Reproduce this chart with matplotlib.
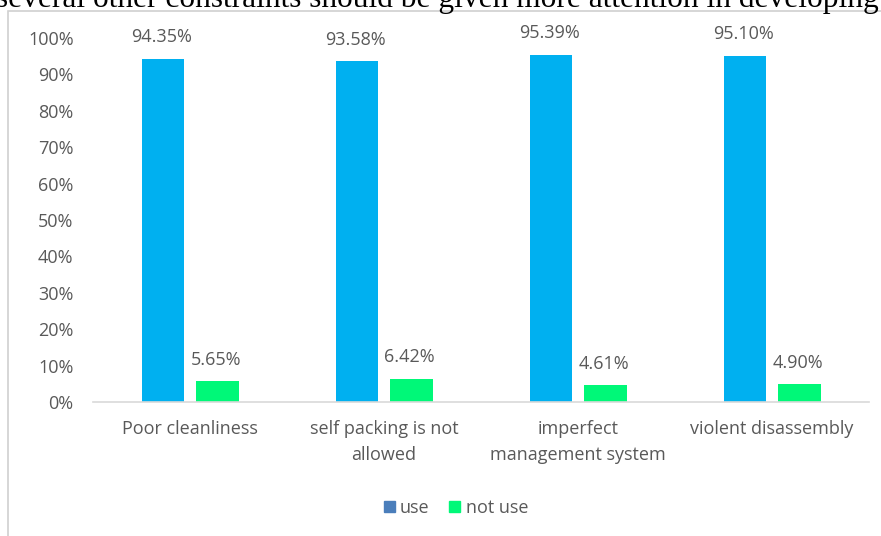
import numpy as np
import matplotlib
matplotlib.use("Agg")
import matplotlib.pyplot as plt
from matplotlib.patches import Rectangle

categories = ["Poor cleanliness", "self packing is not\nallowed",
              "imperfect\nmanagement system", "violent disassembly"]
use_vals = [94.35, 93.58, 95.39, 95.10]
not_use_vals = [5.65, 6.42, 4.61, 4.90]
y_ticks = [0, 10, 20, 30, 40, 50, 60, 70, 80, 90, 100]

blue = "#00B0F0"
green = "#00F878"
legend_blue = "#4A7EBB"
txt = "#595959"
fs = 13

plt.rcParams["font.family"] = ["Open Sans", "DejaVu Sans"]

fig = plt.figure(figsize=(8.81, 5.36), dpi=100)
fig.patch.set_facecolor("white")

# sentence above the chart, cut off at the top edge
fig.text(-4 / 881, 1 - 7 / 536,
         "several other constraints should be given more attention in developing",
         family="Liberation Serif", fontsize=22.6, color="black",
         ha="left", va="baseline")

# chart area frame
fig.patches.append(Rectangle((8 / 881, -0.1), 1.2, 1 - 11 / 536 + 0.1,
                             transform=fig.transFigure, fill=False,
                             edgecolor="#D0D0D0", linewidth=1.2))

ax = fig.add_axes([93 / 881, 1 - 402 / 536, 776 / 881, (402 - 38) / 536])
x = np.arange(len(categories))
w = 0.22
b1 = ax.bar(x - 0.14, use_vals, w, color=blue, label="use")
b2 = ax.bar(x + 0.14, not_use_vals, w, color=green, label="not use")

for bars, vals in [(b1, use_vals), (b2, not_use_vals)]:
    for r, v in zip(bars, vals):
        ax.annotate(f"{v:.2f}%", (r.get_x() + r.get_width() / 2, v),
                    xytext=(-1, 9), textcoords="offset points",
                    ha="center", va="bottom", fontsize=fs, color=txt)

ax.set_xlim(-0.5, len(categories) - 0.5)
ax.set_ylim(0, 100)
ax.set_yticks(y_ticks)
ax.set_yticklabels([f"{t}%" for t in y_ticks])
ax.set_xticks(x)
ax.set_xticklabels(categories, linespacing=1.6)
ax.tick_params(axis="y", length=0, pad=14, labelsize=fs, labelcolor=txt)
ax.tick_params(axis="x", length=0, pad=13, labelsize=fs, labelcolor=txt)
for s in ["top", "right", "left"]:
    ax.spines[s].set_visible(False)
ax.spines["bottom"].set_color("#D9D9D9")
ax.spines["bottom"].set_linewidth(1.2)

handles = [Rectangle((0, 0), 1, 1, color=legend_blue),
           Rectangle((0, 0), 1, 1, color=green)]
fig.legend(handles, ["use", "not use"], loc="center",
           bbox_to_anchor=(456 / 881, 1 - 508 / 536), ncol=2, frameon=False,
           fontsize=fs, labelcolor=txt, handlelength=0.6, handleheight=0.6,
           handletextpad=0.3, columnspacing=1.1)

fig.savefig("out.png", dpi=100)
